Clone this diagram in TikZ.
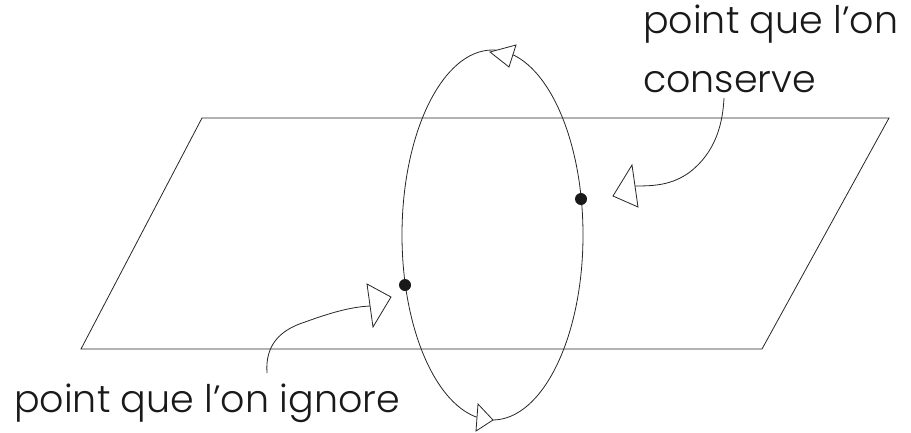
\documentclass[tikz,border=0pt]{standalone}
\usepackage{fontspec}
\setmainfont{Poppins}[UprightFont=* Light]
\begin{document}
\begin{tikzpicture}[x=1pt,y=-1pt,
  thinline/.style={line width=0.8pt,black!85},
  dotn/.style={circle,fill=black!90,inner sep=0pt,minimum size=12pt},
  opentri/.style={line width=0.8pt,black!85,fill=white,line join=miter},
  lbl/.style={font=\fontsize{38}{40}\selectfont,anchor=base west,inner sep=0pt,black!90}]
\useasboundingbox (0,0) rectangle (911,432);
% plane
\draw[thinline] (202,118) -- (889,118) -- (762,349) -- (81,349) -- cycle;
% ellipse
\draw[thinline] (492.5,235) ellipse [x radius=90.5pt, y radius=185pt];
% direction triangles on ellipse
\draw[opentri] (490,52) -- (516,45) -- (509,67) -- cycle;
\draw[opentri] (493,420) -- (478,404) -- (476,431) -- cycle;
% points
\node[dotn] (kept) at (581,199) {};
\node[dotn] (ign) at (405,285) {};
% labels
\node[lbl] (l1) at (643,33) {point que l’on};
\node[lbl] (l2) at (643,92) {conserve};
\node[lbl] (l3) at (14,412) {point que l’on ignore};
% pointer arrows
\coordinate (a1s) at (724,98);
\coordinate (a1e) at (635,186);
\draw[thinline] (a1s) .. controls (722,140) and (705,160) .. (690,172) .. controls (672,185) and (655,186) .. (a1e);
\draw[opentri] (613,196) -- (632,165) -- (638,207) -- cycle;
\coordinate (a2s) at (267,373);
\coordinate (a2e) at (370,306);
\draw[thinline] (a2s) .. controls (265,345) and (280,330) .. (305,322) .. controls (330,313) and (350,307) .. (a2e);
\draw[opentri] (391,297) -- (367,284) -- (373,327) -- cycle;
\end{tikzpicture}
\end{document}
